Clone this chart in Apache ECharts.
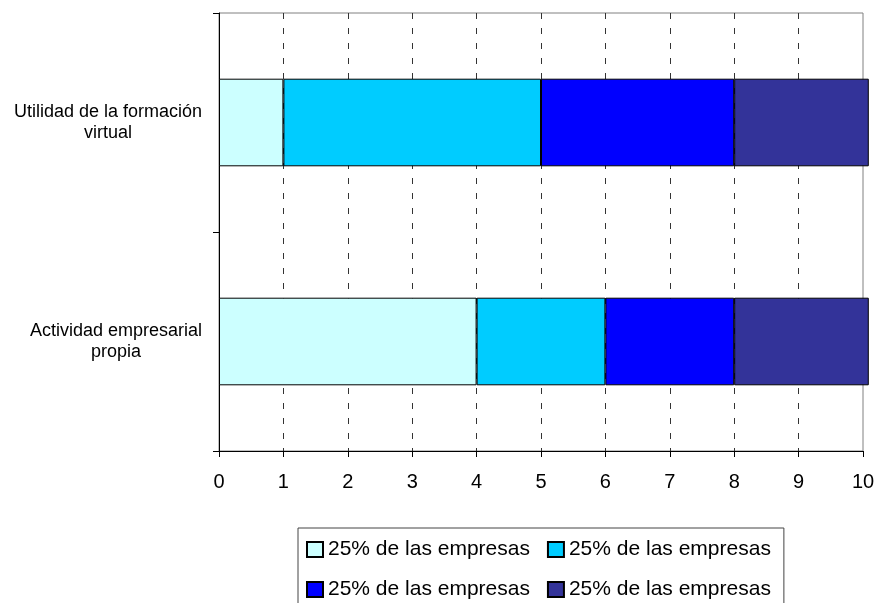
<!DOCTYPE html>
<html>
<head>
<meta charset="utf-8">
<script src="https://cdn.jsdelivr.net/npm/echarts@6/dist/echarts.min.js"></script>
<style>html,body{margin:0;padding:0;background:#fff}#c{width:875px;height:603px}</style>
</head>
<body>
<div id="c"></div>
<script>
const categories = ['Actividad empresarial\npropia', 'Utilidad de la formación\nvirtual'];
const seriesKeys = ['s1', 's2', 's3', 's4'];
const seriesLabels = ['25% de las empresas', '25% de las empresas', '25% de las empresas', '25% de las empresas'];
const seriesColors = ['#CCFFFF', '#00CCFF', '#0000FF', '#333399'];
const values1 = [4, 1];
const values2 = [2, 4];
const values3 = [2, 3];
const values4 = [2.09, 2.09];
const xTicks = [0, 1, 2, 3, 4, 5, 6, 7, 8, 9, 10];

const FONT = "'Liberation Sans', Arial, sans-serif";
const CAT_SIZE = 18;
const allValues = [values1, values2, values3, values4];

// centre each line of a category label inside its (right-aligned) block
const ctx = document.createElement('canvas').getContext('2d');
ctx.font = CAT_SIZE + 'px ' + FONT;
const richStyles = {};
const catFormatted = {};
categories.forEach(function (cat, ci) {
  const lines = cat.split('\n');
  const widths = lines.map(function (s) { return ctx.measureText(s).width; });
  const maxW = Math.max.apply(null, widths);
  catFormatted[cat] = lines.map(function (s, li) {
    const key = 'c' + ci + '_' + li;
    const pad = Math.round((maxW - widths[li]) / 2);
    richStyles[key] = {fontSize: CAT_SIZE, lineHeight: 21, color: '#000', fontFamily: FONT, padding: [0, pad, 0, 0]};
    return '{' + key + '|' + s + '}';
  }).join('\n');
});

const chart = echarts.init(document.getElementById('c'), null, {renderer: 'canvas'});
chart.setOption({
  animation: false,
  backgroundColor: '#fff',
  textStyle: {fontFamily: FONT},
  grid: {left: 219, right: 12, top: 13, bottom: 152, outerBoundsMode: 'none', containLabel: false,
    show: true, borderColor: '#808080', borderWidth: 1, backgroundColor: 'transparent'},
  legend: {
    left: 298, top: 528, width: 480,
    padding: [10, 13, 8, 8],
    borderColor: '#444', borderWidth: 1,
    itemWidth: 16, itemHeight: 15, itemGap: 17,
    icon: 'rect',
    data: seriesKeys,
    formatter: function (name) { return seriesLabels[seriesKeys.indexOf(name)]; },
    textStyle: {fontSize: 21, color: '#000', fontFamily: FONT, lineHeight: 23}
  },
  xAxis: {
    type: 'value', min: xTicks[0], max: xTicks[xTicks.length - 1], interval: 1,
    axisLine: {show: true, lineStyle: {color: '#000', width: 1}},
    axisTick: {show: true, length: 6, lineStyle: {color: '#000'}},
    axisLabel: {fontSize: 20, color: '#000', margin: 21, fontFamily: FONT,
      formatter: function (v) { return xTicks.indexOf(v) >= 0 ? String(v) : ''; }},
    splitLine: {show: true, showMinLine: false, showMaxLine: false,
      lineStyle: {color: '#333', type: [6, 9], width: 1}}
  },
  yAxis: {
    type: 'category', data: categories,
    axisLine: {show: true, lineStyle: {color: '#000', width: 1}},
    axisTick: {show: true, length: 6, lineStyle: {color: '#000'}},
    splitLine: {show: false},
    axisLabel: {
      color: '#000', fontSize: CAT_SIZE, align: 'right', margin: 17, fontFamily: FONT,
      formatter: function (v) { return catFormatted[v]; },
      rich: richStyles
    }
  },
  series: seriesKeys.map(function (k, i) {
    return {
      name: k, type: 'bar', stack: 'total', barWidth: '40%', clip: false,
      itemStyle: {color: seriesColors[i], borderColor: '#000', borderWidth: 1},
      data: allValues[i]
    };
  })
});
</script>
</body>
</html>
